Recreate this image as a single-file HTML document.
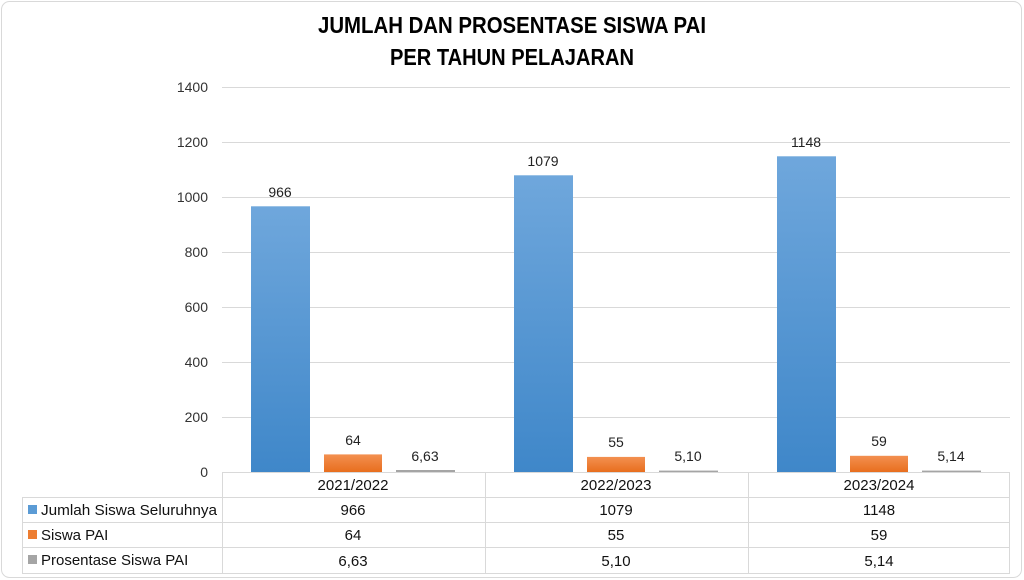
<!DOCTYPE html>
<html><head><meta charset="utf-8"><style>
html,body{margin:0;padding:0;background:#fff;}
svg{display:block;font-family:"Liberation Sans",sans-serif;}
</style></head><body>
<svg width="1024" height="580" viewBox="0 0 1024 580" xmlns="http://www.w3.org/2000/svg">
<defs>
<linearGradient id="gb" x1="0" y1="0" x2="0" y2="1"><stop offset="0" stop-color="#6fa7dc"/><stop offset="1" stop-color="#3f87c9"/></linearGradient>
<linearGradient id="go" x1="0" y1="0" x2="0" y2="1"><stop offset="0" stop-color="#f39050"/><stop offset="1" stop-color="#e86e1e"/></linearGradient>
</defs>
<rect x="1.5" y="1.5" width="1020" height="576" rx="8" fill="#fff" stroke="#d9d9d9"/>
<text x="512" y="33" text-anchor="middle" font-weight="bold" font-size="23" textLength="388" lengthAdjust="spacingAndGlyphs" fill="#000">JUMLAH DAN PROSENTASE SISWA PAI</text>
<text x="512" y="65" text-anchor="middle" font-weight="bold" font-size="23" textLength="244" lengthAdjust="spacingAndGlyphs" fill="#000">PER TAHUN PELAJARAN</text>
<g stroke="#d9d9d9" stroke-width="1">
<line x1="222" y1="87.5" x2="1010" y2="87.5"/><line x1="222" y1="142.5" x2="1010" y2="142.5"/>
<line x1="222" y1="197.5" x2="1010" y2="197.5"/><line x1="222" y1="252.5" x2="1010" y2="252.5"/>
<line x1="222" y1="307.5" x2="1010" y2="307.5"/><line x1="222" y1="362.5" x2="1010" y2="362.5"/>
<line x1="222" y1="417.5" x2="1010" y2="417.5"/>
</g>
<g font-size="14" fill="#333" text-anchor="end">
<text x="208" y="92">1400</text><text x="208" y="147">1200</text><text x="208" y="202">1000</text>
<text x="208" y="257">800</text><text x="208" y="312">600</text><text x="208" y="367">400</text>
<text x="208" y="422">200</text><text x="208" y="477">0</text>
</g>
<rect x="251" y="206.3" width="59" height="265.7" fill="url(#gb)"/>
<rect x="514" y="175.3" width="59" height="296.7" fill="url(#gb)"/>
<rect x="777" y="156.3" width="59" height="315.7" fill="url(#gb)"/>
<rect x="324" y="454.4" width="58" height="17.6" fill="url(#go)"/>
<rect x="587" y="456.9" width="58" height="15.1" fill="url(#go)"/>
<rect x="850" y="455.8" width="58" height="16.2" fill="url(#go)"/>
<rect x="396" y="470" width="59" height="2" fill="#a5a5a5"/>
<rect x="659" y="470.6" width="59" height="1.4" fill="#a5a5a5"/>
<rect x="922" y="470.6" width="59" height="1.4" fill="#a5a5a5"/>
<g font-size="14" fill="#222" text-anchor="middle">
<text x="280" y="197">966</text><text x="543" y="166">1079</text><text x="806" y="147">1148</text>
<text x="353" y="445">64</text><text x="616" y="447">55</text><text x="879" y="446">59</text>
<text x="425" y="461">6,63</text><text x="688" y="461">5,10</text><text x="951" y="461">5,14</text>
</g>
<g stroke="#d9d9d9" stroke-width="1" fill="none">
<line x1="222" y1="472.5" x2="1010" y2="472.5"/>
<line x1="22" y1="497.5" x2="1010" y2="497.5"/>
<line x1="22" y1="522.5" x2="1010" y2="522.5"/>
<line x1="22" y1="547.5" x2="1010" y2="547.5"/>
<line x1="22" y1="573.5" x2="1010" y2="573.5"/>
<line x1="22.5" y1="497" x2="22.5" y2="573"/>
<line x1="222.5" y1="472" x2="222.5" y2="573"/>
<line x1="485.5" y1="472" x2="485.5" y2="573"/>
<line x1="748.5" y1="472" x2="748.5" y2="573"/>
<line x1="1009.5" y1="472" x2="1009.5" y2="573"/>
</g>
<rect x="28" y="505" width="9" height="9" fill="#5b9bd5"/>
<rect x="28" y="530" width="9" height="9" fill="#ed7d31"/>
<rect x="28" y="555" width="9" height="9" fill="#a5a5a5"/>
<g font-size="15" fill="#111">
<text x="41" y="515" textLength="176" lengthAdjust="spacingAndGlyphs">Jumlah Siswa Seluruhnya</text>
<text x="41" y="540">Siswa PAI</text>
<text x="41" y="565">Prosentase Siswa PAI</text>
</g>
<g font-size="15" fill="#111" text-anchor="middle">
<text x="353" y="490">2021/2022</text><text x="616" y="490">2022/2023</text><text x="879" y="490">2023/2024</text>
<text x="353" y="515">966</text><text x="616" y="515">1079</text><text x="879" y="515">1148</text>
<text x="353" y="540">64</text><text x="616" y="540">55</text><text x="879" y="540">59</text>
<text x="353" y="566">6,63</text><text x="616" y="566">5,10</text><text x="879" y="566">5,14</text>
</g>
</svg>
</body></html>
